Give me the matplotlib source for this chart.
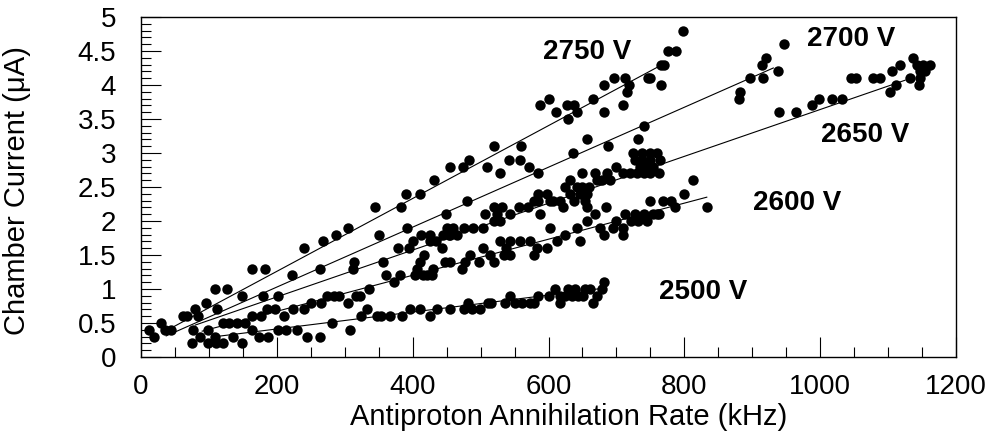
import matplotlib
matplotlib.use("Agg")
import matplotlib.pyplot as plt
from matplotlib.ticker import MultipleLocator, FuncFormatter

plt.rcParams['font.family'] = ['Liberation Sans', 'DejaVu Sans']

# ---------------- data (kHz, uA) ----------------
x_2750 = [12, 30, 62, 80, 96, 109, 127, 164, 183, 240, 268, 287, 304, 344, 383, 390, 410, 432,
          455, 474, 483, 509, 520, 528, 542, 559, 558, 587, 600, 611, 627, 628, 638, 642, 665,
          682, 682, 696, 709, 713, 716, 719, 746, 749, 765, 765, 770, 776, 788, 798]
y_2750 = [0.4, 0.5, 0.6, 0.7, 0.8, 1.0, 1.0, 1.3, 1.3, 1.6, 1.7, 1.8, 1.9, 2.2, 2.2, 2.4, 2.4, 2.6,
          2.8, 2.8, 2.9, 2.8, 3.1, 2.7, 2.9, 3.1, 2.9, 3.7, 3.8, 3.6, 3.7, 3.5, 3.7, 3.6, 3.8,
          4.0, 3.6, 4.1, 3.7, 4.1, 3.9, 4.0, 4.1, 4.1, 4.0, 4.3, 4.3, 4.5, 4.5, 4.8]

x_2700 = [19, 35, 68, 112, 148, 179, 223, 264, 313, 350, 391, 412, 449, 480, 571, 584, 636,
          657, 688, 731, 740, 880, 882, 897, 916, 915, 920, 938, 946]
y_2700 = [0.3, 0.4, 0.6, 0.7, 0.9, 0.9, 1.2, 1.3, 1.4, 1.8, 1.9, 1.8, 2.1, 2.3, 2.8, 2.7, 3.0,
          3.2, 3.1, 3.2, 3.4, 3.8, 3.9, 4.1, 4.1, 4.3, 4.4, 4.2, 4.6]

x_2650 = [44, 84, 120, 163, 186, 202, 274, 312, 356, 379, 394, 400, 417, 426, 426, 435, 443,
          444, 451, 454, 455, 465, 460, 475, 489, 504, 519, 529, 507, 524, 543, 519, 531, 556,
          570, 578, 585, 602, 607, 617, 622, 588, 585, 597, 624, 632, 646, 656, 650, 659, 642,
          632, 671, 678, 691, 649, 668, 686, 700, 637, 654, 656, 685,
          710, 720, 730, 740, 749, 762, 735, 745, 754, 727, 737, 749, 764, 725, 737, 749, 759,
          940, 964, 988, 998, 1018, 1032, 1046, 1053, 1078, 1088, 1103, 1112, 1105, 1117,
          1132, 1137, 1142, 1147, 1151, 1154, 1162, 1147, 1146]
y_2650 = [0.4, 0.6, 0.5, 0.6, 0.7, 0.9, 0.9, 1.3, 1.4, 1.6, 1.6, 1.7, 1.5, 1.7, 1.8, 1.7, 1.6,
          1.8, 1.9, 1.8, 1.8, 1.8, 1.9, 1.9, 1.9, 1.9, 2.0, 2.0, 2.1, 2.1, 2.1, 2.2, 2.2, 2.2,
          2.2, 2.3, 2.3, 2.3, 2.3, 2.3, 2.2, 2.1, 2.4, 2.4, 2.5, 2.4, 2.4, 2.4, 2.5, 2.5, 2.5,
          2.6, 2.6, 2.6, 2.6, 2.7, 2.7, 2.7, 2.8, 2.3, 2.3, 2.2, 2.2,
          2.7, 2.7, 2.7, 2.7, 2.7, 2.7, 2.8, 2.8, 2.8, 2.9, 2.9, 2.9, 2.9, 3.0, 3.0, 3.0, 3.0,
          3.6, 3.6, 3.7, 3.8, 3.8, 3.8, 4.1, 4.1, 4.1, 4.1, 3.9, 4.0, 4.2, 4.3,
          4.1, 4.4, 4.3, 4.2, 4.3, 4.2, 4.3, 4.1, 4.0]

x_2600 = [76, 99, 110, 130, 142, 153, 176, 197, 210, 224, 240, 250, 265, 284, 291, 304, 317,
          322, 336, 360, 373, 382, 404, 407, 410, 415, 421, 428, 430, 448,
          455, 472, 477, 484, 497, 504, 514, 519, 529, 534, 538, 543, 543, 558, 573, 578, 583,
          597, 602, 612, 624, 642, 646, 656, 668, 676, 681, 695, 700, 710, 710, 713, 722, 732,
          745, 727, 740, 754, 759, 762, 749, 769, 781, 786, 799, 813, 834]
y_2600 = [0.4, 0.4, 0.2, 0.5, 0.5, 0.5, 0.6, 0.7, 0.6, 0.7, 0.7, 0.8, 0.8, 0.9, 0.9, 0.8, 0.9,
          0.9, 1.0, 1.2, 1.1, 1.2, 1.2, 1.3, 1.4, 1.2, 1.2, 1.2, 1.3, 1.4,
          1.4, 1.3, 1.4, 1.5, 1.4, 1.6, 1.5, 1.4, 1.7, 1.5, 1.6, 1.5, 1.7, 1.7, 1.7, 1.5, 1.6,
          1.6, 1.9, 1.7, 1.8, 1.9, 1.7, 2.0, 2.1, 1.9, 1.8, 1.9, 2.0, 1.9, 1.8, 2.1, 2.0, 2.0,
          2.0, 2.1, 2.1, 2.1, 2.1, 2.1, 2.3, 2.3, 2.3, 2.2, 2.4, 2.6, 2.2]

x_2500 = [75, 87, 98, 109, 121, 135, 148, 163, 173, 187, 202, 213, 229, 244, 263, 281, 308,
          324, 333, 347, 354, 367, 384, 396, 410, 426, 436,
          455, 475, 487, 499, 482, 511, 516, 536, 543, 551, 561, 573, 578, 585, 600, 610, 617,
          617, 624, 629, 634, 639, 644, 651, 654, 661, 666, 671, 678, 682]
y_2500 = [0.2, 0.3, 0.2, 0.3, 0.2, 0.3, 0.2, 0.4, 0.3, 0.3, 0.4, 0.4, 0.4, 0.3, 0.3, 0.5, 0.4,
          0.6, 0.7, 0.6, 0.6, 0.6, 0.6, 0.7, 0.7, 0.6, 0.7,
          0.7, 0.7, 0.7, 0.7, 0.8, 0.8, 0.8, 0.8, 0.9, 0.8, 0.8, 0.8, 0.8, 0.9, 0.9, 1.0, 0.9,
          0.8, 0.9, 1.0, 0.9, 1.0, 0.9, 0.9, 1.0, 1.0, 0.8, 0.9, 1.0, 1.1]

# fitted lines (end points)
fit_x_2750 = [47, 760];   fit_y_2750 = [0.44, 4.26]
fit_x_2700 = [37, 931];   fit_y_2700 = [0.31, 4.25]
fit_x_2650 = [80, 1125];  fit_y_2650 = [0.47, 4.07]
fit_x_2600 = [90, 833];   fit_y_2600 = [0.38, 2.35]
fit_x_2500 = [110, 672];  fit_y_2500 = [0.30, 1.00]

labels = ["2750 V", "2700 V", "2650 V", "2600 V", "2500 V"]
label_x = [657, 1046, 1066, 966, 828]
label_y = [4.49, 4.68, 3.26, 2.26, 0.96]

x_ticks = [0, 200, 400, 600, 800, 1000, 1200]
y_ticks = [0, 0.5, 1, 1.5, 2, 2.5, 3, 3.5, 4, 4.5, 5]

# ---------------- figure ----------------
fig = plt.figure(figsize=(9.94, 4.41), dpi=100)
ax = fig.add_axes([0.1419, 0.1905, 0.8199, 0.7710])

series = [(x_2750, y_2750, fit_x_2750, fit_y_2750),
          (x_2700, y_2700, fit_x_2700, fit_y_2700),
          (x_2650, y_2650, fit_x_2650, fit_y_2650),
          (x_2600, y_2600, fit_x_2600, fit_y_2600),
          (x_2500, y_2500, fit_x_2500, fit_y_2500)]
for xs, ys, fx, fy in series:
    ax.plot(fx, fy, color='black', lw=0.8, zorder=2)
    ax.plot(xs, ys, 'o', color='black', ms=7.5, mew=0, zorder=3)

for t, lx, ly in zip(labels, label_x, label_y):
    ax.text(lx, ly, t, fontsize=20, fontweight='bold', ha='center', va='center')

ax.set_xlim(0, 1200)
ax.set_ylim(0, 5)
ax.set_xticks(x_ticks)
ax.set_yticks(y_ticks)
ax.xaxis.set_minor_locator(MultipleLocator(50))
ax.yaxis.set_minor_locator(MultipleLocator(0.1))
ax.yaxis.set_major_formatter(FuncFormatter(lambda v, p: f"{v:g}"))
ax.tick_params(which='both', direction='in', top=False, right=False, width=0.8)
ax.tick_params(which='major', length=14.4)
ax.tick_params(which='minor', length=7.2)
ax.tick_params(axis='x', which='major', labelsize=20, pad=12)
ax.tick_params(axis='y', which='major', labelsize=20, pad=18)
for s in ax.spines.values():
    s.set_linewidth(1.0)

ax.set_xlabel("Antiproton Annihilation Rate (kHz)", fontsize=21)
ax.set_ylabel("Chamber Current (\u03bcA)", fontsize=21)
ax.xaxis.set_label_coords(0.525, -0.135)
ax.yaxis.set_label_coords(-0.135, 0.49)

fig.savefig("out.png", dpi=100)
